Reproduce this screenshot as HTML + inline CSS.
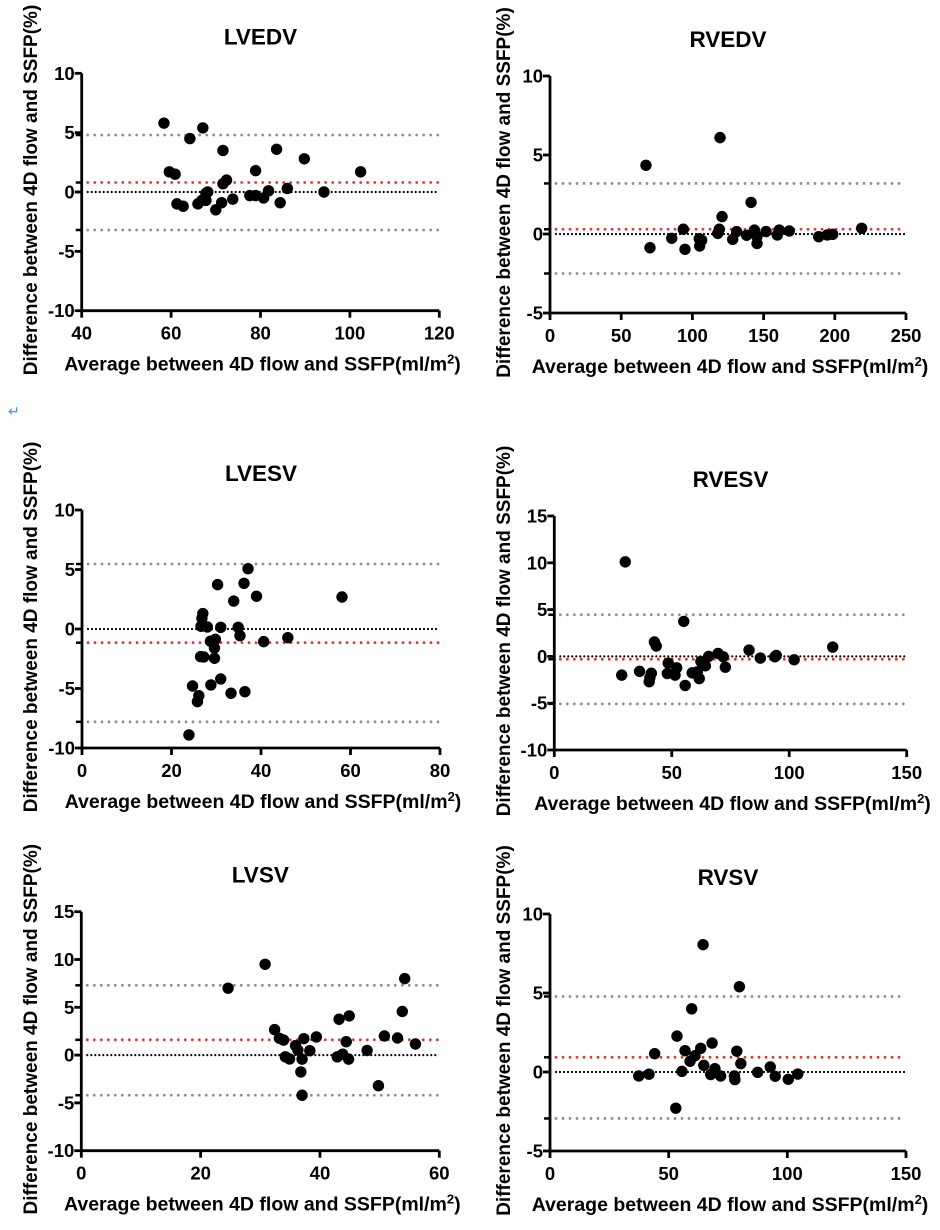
<!DOCTYPE html>
<html><head><meta charset="utf-8">
<style>
html,body{margin:0;padding:0;background:#fff;}
svg{display:block;font-family:"Liberation Sans",Arial,sans-serif;}
</style></head>
<body>
<svg id="chart" width="940" height="1230" viewBox="0 0 940 1230" xmlns="http://www.w3.org/2000/svg">
<text x="8" y="416" font-size="14" fill="#4a90d9">↵</text>
</svg>
<script>
// ---- data ----
const panelNames = ["LVEDV","RVEDV","LVESV","RVESV","LVSV","RVSV"];
const lvedvX = [58.4,67.1,64.2,71.6,83.6,89.8,102.4,59.6,60.9,78.9,72.4,71.6,68.2,67.8,86.0,81.8,77.6,78.9,80.7,94.2,73.8,61.3,62.7,66.0,66.9,67.8,71.3,70.0,84.4];
const lvedvY = [5.8,5.4,4.5,3.5,3.6,2.8,1.7,1.7,1.5,1.8,1.0,0.7,0,-0.1,0.3,0.1,-0.3,-0.3,-0.5,0,-0.6,-1.0,-1.2,-1.0,-0.7,-0.7,-0.9,-1.5,-0.9];
const rvedvX = [67.4,119.4,141.2,120.8,70.2,85.5,93.6,94.8,104.8,106.5,105.1,117.8,118.9,128.3,131.1,138.1,143.5,145.4,145.4,151.7,159.6,161,168,188.7,194.7,198.5,218.9];
const rvedvY = [4.35,6.1,2.0,1.1,-0.87,-0.27,0.3,-0.97,-0.3,-0.4,-0.76,0.04,0.3,-0.34,0.15,-0.08,0.25,-0.17,-0.6,0.15,-0.06,0.25,0.19,-0.17,-0.06,-0.02,0.36];
const lvesvX = [37.1,30.3,36.2,39.0,33.9,58.1,27.0,26.8,26.6,28.0,31.0,34.9,35.3,28.7,29.8,29.6,40.6,46.0,26.5,27.2,29.6,31.0,24.7,28.8,26.1,25.8,33.3,36.4,23.9];
const lvesvY = [5.07,3.73,3.84,2.75,2.35,2.69,1.3,0.9,0.23,0.17,0.14,0.14,-0.56,-1.03,-0.87,-1.6,-1.06,-0.73,-2.32,-2.35,-2.46,-4.2,-4.79,-4.7,-5.6,-6.1,-5.4,-5.27,-8.9];
const rvesvX = [30.2,55.1,42.6,43.4,28.7,36.3,41.3,40.7,40.4,48.5,52.1,48.1,51.4,55.7,58.7,60.9,61.7,62.4,64.3,65.7,69.7,71.9,72.8,82.9,87.7,93.9,94.5,102.1,118.5];
const rvesvY = [10.1,3.74,1.54,1.11,-2.0,-1.6,-1.8,-2.26,-2.7,-0.72,-1.22,-1.83,-2.0,-3.1,-1.76,-1.65,-2.37,-0.54,-1.0,0,0.32,-0.04,-1.15,0.68,-0.18,-0.04,0.1,-0.36,1.0];
const lvsvX = [30.8,24.6,54.2,53.8,43.2,44.9,32.4,33.2,33.9,37.3,39.4,35.9,36.3,38.3,34.2,34.9,37.0,36.8,37.0,44.4,42.9,43.8,44.8,47.9,50.8,53.0,56.0,49.8];
const lvsvY = [9.5,7.0,8.0,4.56,3.75,4.1,2.67,1.76,1.57,1.72,1.9,1.0,0.53,0.46,-0.18,-0.4,-0.42,-1.76,-4.2,1.4,-0.18,0.1,-0.42,0.49,2.0,1.79,1.16,-3.2];
const rvsvX = [64.5,79.8,59.7,53.5,68.3,63.5,56.9,44.1,78.7,61.1,59,80.4,64.8,55.6,69.5,67.7,71.9,77.7,77.9,37.4,41.7,87.5,92.8,94.9,100.4,104.4,53];
const rvsvY = [8.06,5.4,4.0,2.27,1.83,1.5,1.35,1.16,1.32,1.03,0.68,0.53,0.42,0.04,0.21,-0.16,-0.25,-0.25,-0.48,-0.25,-0.14,-0.02,0.32,-0.27,-0.46,-0.13,-2.29];
const meanBias = [0.8,0.3,-1.15,-0.3,1.6,0.93];
const upperLoA = [4.8,3.2,5.46,4.45,7.3,4.78];
const lowerLoA = [-3.2,-2.5,-7.8,-5.07,-4.2,-2.94];
const xTicks = [[40,60,80,100,120],[0,50,100,150,200,250],[0,20,40,60,80],[0,50,100,150],[0,20,40,60],[0,50,100,150]];
const yTicks = [[-10,-5,0,5,10],[-5,0,5,10],[-10,-5,0,5,10],[-10,-5,0,5,10,15],[-10,-5,0,5,10,15],[-5,0,5,10]];
const seriesX = [lvedvX,rvedvX,lvesvX,rvesvX,lvsvX,rvsvX];
const seriesY = [lvedvY,rvedvY,lvesvY,rvesvY,lvsvY,rvsvY];

// ---- layout (pixel geometry, not data) ----
const geo = [
 {x0:81.7,x1:439.3,yt:73.3,yb:310.7,tx:30},
 {x0:550,x1:906,yt:76,yb:313,tx:503},
 {x0:82,x1:440,yt:510,yb:748,tx:30},
 {x0:554.3,x1:906.7,yt:516,yb:750,tx:503},
 {x0:81.3,x1:439.3,yt:911.7,yb:1150.7,tx:30},
 {x0:550,x1:906,yt:914,yb:1151,tx:503}
];
const NS="http://www.w3.org/2000/svg";
const svg=document.getElementById('chart');
function mk(tag,attrs,parent){const e=document.createElementNS(NS,tag);for(const k in attrs)e.setAttribute(k,attrs[k]);(parent||svg).appendChild(e);return e;}

for(let p=0;p<6;p++){
  const g=geo[p], xt=xTicks[p], yt=yTicks[p];
  const xmin=xt[0], xmax=xt[xt.length-1], ymin=yt[0], ymax=yt[yt.length-1];
  const sx=v=>g.x0+(v-xmin)*(g.x1-g.x0)/(xmax-xmin);
  const sy=v=>g.yb-(v-ymin)*(g.yb-g.yt)/(ymax-ymin);
  const grp=mk('g',{});
  
  
  const cx=(g.x0+g.x1)/2;
  const t=mk('text',{x:cx,y:g.yt-29,'text-anchor':'middle','font-size':22.5,'font-weight':'bold'},grp);
  t.textContent=panelNames[p];
  
  
  const lines=[[upperLoA[p],'#8e8e8e',2.8,'0 7','upper-loa-line'],[lowerLoA[p],'#8e8e8e',2.8,'0 7','lower-loa-line'],[0,'#000',2.2,'0 4','zero-line'],[meanBias[p],'#e8302a',2.8,'0 7','mean-bias-line']];
  lines.forEach(L=>{
    const l=mk('line',{x1:g.x0+6,x2:g.x1,y1:sy(L[0]),y2:sy(L[0]),stroke:L[1],'stroke-width':L[2],'stroke-dasharray':L[3],'stroke-linecap':'round'},grp);
    
    
    if(L[0]!==0){mk('line',{x1:g.x0-6,x2:g.x0,y1:sy(L[0]),y2:sy(L[0]),stroke:'#000','stroke-width':2.5},grp);}
  });
  const ya=mk('line',{x1:g.x0,x2:g.x0,y1:g.yt,y2:g.yb+1.3,stroke:'#000','stroke-width':2.8},grp);
  
  
  const xa=mk('line',{x1:g.x0-1.3,x2:g.x1,y1:g.yb,y2:g.yb,stroke:'#000','stroke-width':2.8},grp);
  
  
  yt.forEach(v=>{
    mk('line',{x1:g.x0-7,x2:g.x0,y1:sy(v),y2:sy(v),stroke:'#000','stroke-width':2.8},grp);
    const tl=mk('text',{x:g.x0-7,y:sy(v)+6.5,'text-anchor':'end','font-size':18.5,'font-weight':'bold'},grp);
    tl.textContent=v;
    
    
  });
  xt.forEach(v=>{
    mk('line',{x1:sx(v),x2:sx(v),y1:g.yb,y2:g.yb+7,stroke:'#000','stroke-width':2.8},grp);
    const tl=mk('text',{x:sx(v),y:g.yb+29,'text-anchor':'middle','font-size':18.5,'font-weight':'bold'},grp);
    tl.textContent=v;
    
    
  });
  const xtit=mk('text',{x:cx+2,y:g.yb+60,'text-anchor':'middle','font-size':19.5,'font-weight':'bold'},grp);
  xtit.innerHTML='Average between 4D flow and SSFP(ml/m<tspan font-size="13" dy="-7">2</tspan><tspan dy="7">)</tspan>';
  
  
  const my=(g.yt+g.yb)/2-2;
  const ytit=mk('text',{x:g.tx,y:my,'text-anchor':'middle','font-size':19,'font-weight':'bold',transform:`rotate(-90 ${g.tx} ${my}) translate(0 7)`},grp);
  ytit.textContent='Difference between 4D flow and SSFP(%)';
  
  
  const xs=seriesX[p], ys=seriesY[p];
  for(let i=0;i<xs.length;i++){
    const c=mk('circle',{cx:sx(xs[i]),cy:sy(ys[i]),r:5.7,fill:'#000'},grp);
    
    
  }
}
</script>
</body></html>
